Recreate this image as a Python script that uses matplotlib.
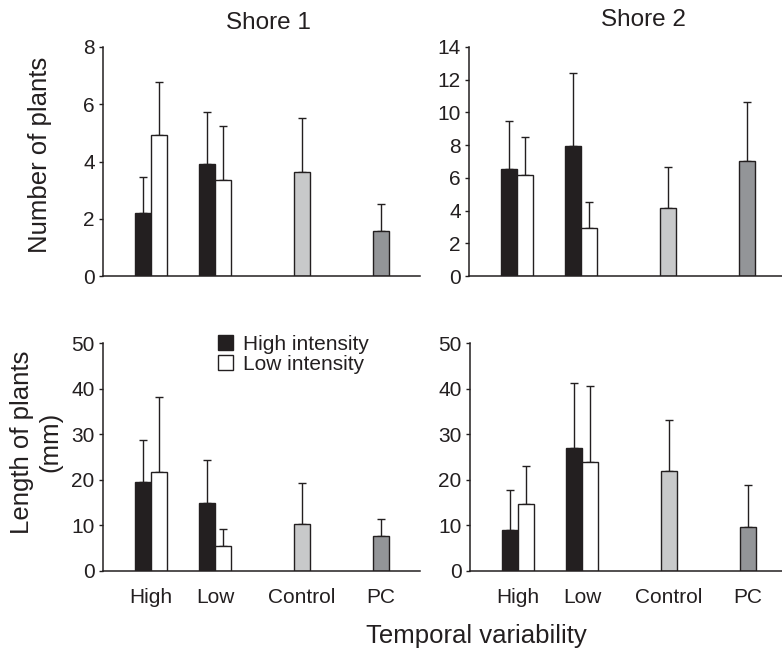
import matplotlib.pyplot as plt

plt.rcParams['font.family'] = ['Liberation Sans', 'DejaVu Sans']

categories = ["High", "Low", "Control", "PC"]
shores = ["Shore 1", "Shore 2"]

# Number of plants
s1_num_hi = [2.19, 3.90]
s1_num_hi_err = [1.28, 1.84]
s1_num_lo = [4.92, 3.35]
s1_num_lo_err = [1.87, 1.89]
s1_num_ctrl, s1_num_ctrl_err = 3.64, 1.87
s1_num_pc, s1_num_pc_err = 1.56, 0.95

s2_num_hi = [6.52, 7.97]
s2_num_hi_err = [2.94, 4.44]
s2_num_lo = [6.17, 2.91]
s2_num_lo_err = [2.35, 1.61]
s2_num_ctrl, s2_num_ctrl_err = 4.18, 2.48
s2_num_pc, s2_num_pc_err = 7.05, 3.57

# Length of plants (mm)
s1_len_hi = [19.5, 14.9]
s1_len_hi_err = [9.2, 9.4]
s1_len_lo = [21.7, 5.5]
s1_len_lo_err = [16.5, 3.7]
s1_len_ctrl, s1_len_ctrl_err = 10.2, 9.0
s1_len_pc, s1_len_pc_err = 7.7, 3.8

s2_len_hi = [9.1, 27.0]
s2_len_hi_err = [8.7, 14.2]
s2_len_lo = [14.6, 23.8]
s2_len_lo_err = [8.4, 16.8]
s2_len_ctrl, s2_len_ctrl_err = 21.9, 11.3
s2_len_pc, s2_len_pc_err = 9.7, 9.2

DARK = "#231f20"
C_HI = "#231f20"
C_LO = "#ffffff"
C_CTRL = "#c8c9ca"
C_PC = "#939598"

centers = [3.0, 7.0, 12.4, 17.35]


def draw_panel(ax, hi, hi_err, lo, lo_err, ctrl, ctrl_err, pc, pc_err, ymax, ystep, xlabels):
    xs_hi = [centers[0] - 0.5, centers[1] - 0.5]
    xs_lo = [centers[0] + 0.5, centers[1] + 0.5]
    ax.bar(xs_hi, hi, width=1.0, color=C_HI, edgecolor=DARK, linewidth=1.0,
           label="High intensity", zorder=2)
    ax.bar(xs_lo, lo, width=1.0, color=C_LO, edgecolor=DARK, linewidth=1.0,
           label="Low intensity", zorder=2)
    ax.bar([centers[2]], [ctrl], width=1.0, color=C_CTRL, edgecolor=DARK, linewidth=1.0, zorder=2)
    ax.bar([centers[3]], [pc], width=1.0, color=C_PC, edgecolor=DARK, linewidth=1.0, zorder=2)

    # error bars only go upward
    xs = xs_hi + xs_lo + [centers[2], centers[3]]
    ys = list(hi) + list(lo) + [ctrl, pc]
    es = list(hi_err) + list(lo_err) + [ctrl_err, pc_err]
    ax.errorbar(xs, ys, yerr=[[0] * len(es), es], fmt="none", ecolor=DARK,
                elinewidth=1.0, capsize=2.6, capthick=1.0, zorder=1)

    ax.set_xlim(0, 19.8)
    ax.set_ylim(0, ymax)
    ax.set_yticks(range(0, ymax + 1, ystep))
    for side in ["top", "right"]:
        ax.spines[side].set_visible(False)
    for side in ["left", "bottom"]:
        ax.spines[side].set_color(DARK)
        ax.spines[side].set_linewidth(1.1)
    ax.tick_params(axis="y", length=3, width=1.0, color=DARK, labelsize=15,
                   labelcolor=DARK, pad=3)
    ax.set_xticks(centers)
    if xlabels:
        ax.set_xticklabels(categories)
    else:
        ax.set_xticklabels([])
    ax.tick_params(axis="x", length=0, labelsize=15, labelcolor=DARK, pad=12)


fig = plt.figure(figsize=(7.82, 6.5), dpi=100)
W, H = 782.0, 650.0
ax1 = fig.add_axes([103 / W, 1 - 276 / H, 317 / W, 229 / H])
ax2 = fig.add_axes([469 / W, 1 - 276 / H, 317 / W, 229 / H])
ax3 = fig.add_axes([103 / W, 1 - 571 / H, 317 / W, 228 / H])
ax4 = fig.add_axes([470 / W, 1 - 571 / H, 317 / W, 228 / H])

draw_panel(ax1, s1_num_hi, s1_num_hi_err, s1_num_lo, s1_num_lo_err,
           s1_num_ctrl, s1_num_ctrl_err, s1_num_pc, s1_num_pc_err, 8, 2, False)
draw_panel(ax2, s2_num_hi, s2_num_hi_err, s2_num_lo, s2_num_lo_err,
           s2_num_ctrl, s2_num_ctrl_err, s2_num_pc, s2_num_pc_err, 14, 2, False)
draw_panel(ax3, s1_len_hi, s1_len_hi_err, s1_len_lo, s1_len_lo_err,
           s1_len_ctrl, s1_len_ctrl_err, s1_len_pc, s1_len_pc_err, 50, 10, True)
draw_panel(ax4, s2_len_hi, s2_len_hi_err, s2_len_lo, s2_len_lo_err,
           s2_len_ctrl, s2_len_ctrl_err, s2_len_pc, s2_len_pc_err, 50, 10, True)

ax3.legend(loc="upper left", bbox_to_anchor=(0.363, 1.035), frameon=False,
           fontsize=15, handlelength=0.7, handleheight=0.7, handletextpad=0.5,
           labelspacing=0.05, borderpad=0, borderaxespad=0, labelcolor=DARK)

fig.text(268 / W, 1 - 23 / H, shores[0], ha="center", va="center", fontsize=17.5, color=DARK)
fig.text(643 / W, 1 - 20 / H, shores[1], ha="center", va="center", fontsize=17.5, color=DARK)
fig.text(40 / W, 1 - 155 / H, "Number of plants", rotation=90, ha="center", va="center",
         fontsize=18.5, color=DARK)
fig.text(36 / W, 1 - 442 / H, "Length of plants\n(mm)", rotation=90, ha="center", va="center",
         fontsize=18.5, color=DARK, linespacing=1.2)
fig.text(476 / W, 1 - 636 / H, "Temporal variability", ha="center", va="center",
         fontsize=18.5, color=DARK)

fig.savefig("out.png", dpi=100)
